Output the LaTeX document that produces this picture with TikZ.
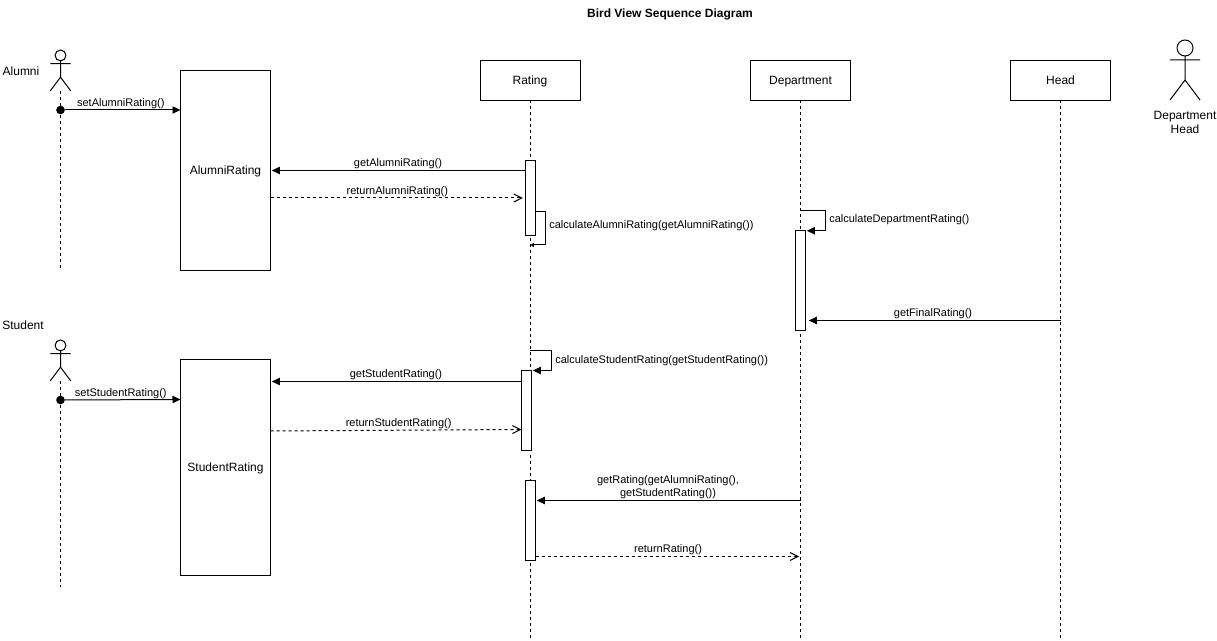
\documentclass[tikz,border=0pt]{standalone}
\usepackage{fontspec}
\setmainfont{Liberation Sans}
\usetikzlibrary{arrows.meta,positioning}
\tikzset{
  classbox/.style={draw,line width=.75pt,minimum width=75pt,minimum height=30pt,outer sep=0pt,inner sep=0pt,text height=7.5pt,text depth=.8pt,font=\fontsize{9}{10.5}\selectfont},
  rateBox/.style={draw,line width=.75pt,fill=white,minimum width=67.5pt,outer sep=0pt,inner sep=0pt,text height=7.5pt,text depth=.8pt,font=\fontsize{9}{10.5}\selectfont},
  activation/.style={draw,line width=.75pt,fill=white,minimum width=7.5pt,outer sep=0pt,inner sep=0pt},
  lifeline/.style={line width=.75pt,dash pattern=on 2.25pt off 2.25pt},
  call/.style={line width=.75pt,-{Triangle[length=6pt,width=5.5pt]},shorten >=1pt},
  reply/.style={line width=.75pt,dash pattern=on 2.25pt off 2.25pt,-{Straight Barb[length=6pt,width=6pt]},shorten >=1pt},
  msg/.style={font=\fontsize{8.25}{9.75}\selectfont,inner sep=.75pt,align=center},
  startdot/.style={circle,fill,inner sep=0pt,minimum size=6.5pt},
  title/.style={font=\bfseries\fontsize{9}{10.5}\selectfont},
  plain/.style={font=\fontsize{9}{10.5}\selectfont,inner sep=0pt,align=center},
  stickman/.pic={
    \draw[line width=.75pt] (0,8) circle[radius=8];
    \draw[line width=.75pt] (-15,20) -- (15,20) (0,16) -- (0,40) (-15,60) -- (0,40) -- (15,60);
    \coordinate (-foot) at (0,60);
  }
}
\begin{document}
\begin{tikzpicture}[x=.75pt,y=-.75pt]
  \useasboundingbox (0,0) rectangle (1217,641);
  \node[title] (heading) at (670,14) {Bird View Sequence Diagram};
  % heads
  \node[classbox] (rating) at (530,80.5) {Rating};
  \node[classbox,right=127.5pt of rating.east,anchor=west,xshift=.4pt] (dept) {Department};
  \node[classbox,right=120pt of dept] (head) {Head};
  \node[rateBox,minimum height=150pt] (alumniRate) at (225.5,170.5) {AlumniRating};
  \node[rateBox,minimum height=161.25pt] (studentRate) at (225.5,467.5) {StudentRating};
  % actors
  \pic[scale=.68] (alumni) at (60.5,50) {stickman};
  \pic[scale=.68] (student) at (60.5,340) {stickman};
  \pic at (1185,40) {stickman};
  \node[plain] (alumniTxt) at (21,71) {Alumni};
  \node[plain] (studentTxt) at (23,325) {Student};
  \node[plain] (headTxt) at (1185,122) {Department\\Head};
  % free ends
  \coordinate (alumniEnd) at (60.5,268);
  \coordinate (studentEnd) at (60.5,587);
  \coordinate (ratingEnd) at (rating |- 0,640);
  \coordinate (deptEnd) at (dept |- 0,640);
  \coordinate (headEnd) at (head |- 0,640);
  \draw[lifeline] (alumni-foot) -- (alumniEnd);
  \draw[lifeline] (student-foot) -- (studentEnd);
  \draw[lifeline] (rating.south) -- (ratingEnd);
  \draw[lifeline] (dept.south) -- (deptEnd);
  \draw[lifeline] (head.south) -- (headEnd);
  % activations
  \node[activation,minimum height=56.25pt] (ratingA) at (530.5,198) {};
  \node[activation,minimum height=60pt] (ratingB) at (526.5,410.5) {};
  \node[activation,minimum height=60pt] (ratingC) at (530.5,520.5) {};
  \node[activation,minimum height=74.6pt] (deptA) at (800.5,280.5) {};
  % alumni side
  \node[startdot] (dotA) at (60.5,110) {};
  \draw[call,shorten >=0pt] (dotA) -- (alumniRate.west |- dotA) node[msg,midway,above,xshift=-1.5pt] {setAlumniRating()};
  \coordinate (m1) at (0,170.5);
  \draw[call] (ratingA.west |- m1) -- (alumniRate.east |- m1) node[msg,midway,above] {getAlumniRating()};
  \coordinate (m2) at (0,198);
  \draw[reply] (alumniRate.east |- m2) -- ([xshift=-1pt]ratingA.west |- m2) node[msg,midway,above] {returnAlumniRating()};
  \draw[line width=.75pt,-{Triangle[length=2.5pt,width=3pt]}] (ratingA.east |- 0,212) -| (545.5,245) -- (530.5,245);
  \node[msg,anchor=west,inner sep=0pt] (calcA) at (549,225.5) {calculateAlumniRating(getAlumniRating())};
  % department
  \coordinate (d1) at (825.5,210.5);
  \draw[call] (dept |- d1) -- (d1) |- (deptA.north east);
  \node[msg,anchor=west,inner sep=0pt] (calcD) at (829,219.5) {calculateDepartmentRating()};
  \coordinate (d2) at (0,320.5);
  \draw[call,shorten >=2.5pt] (head |- d2) -- (deptA.east |- d2) node[msg,midway,above] {getFinalRating()};
  % student side
  \node[startdot] (dotB) at (60.5,400) {};
  \draw[call,shorten >=0pt] (dotB) -- (studentRate.west |- 0,399.5) node[msg,midway,above,xshift=-1.5pt,yshift=-.75pt] {setStudentRating()};
  \coordinate (s1) at (0,381.5);
  \draw[call] (ratingB.west |- s1) -- (studentRate.east |- s1) node[msg,midway,above] {getStudentRating()};
  \coordinate (s2) at (551.5,350.5);
  \draw[call] (rating |- s2) -- (s2) |- (ratingB.north east);
  \node[msg,anchor=west,inner sep=0pt] (calcS) at (555,360.5) {calculateStudentRating(getStudentRating())};
  \draw[reply,shorten >=0pt] (studentRate.east |- 0,431) -- (ratingB.west |- 0,429.5) node[msg,midway,above,xshift=2pt] {returnStudentRating()};
  % final calls
  \coordinate (r1) at (0,500.5);
  \draw[call] (dept |- r1) -- (ratingC.east |- r1) node[msg,midway,above] {getRating(getAlumniRating(),\\getStudentRating())};
  \coordinate (r2) at (0,556.5);
  \draw[reply] (ratingC.east |- r2) -- (dept |- r2) node[msg,midway,above] {returnRating()};
\end{tikzpicture}
\end{document}
